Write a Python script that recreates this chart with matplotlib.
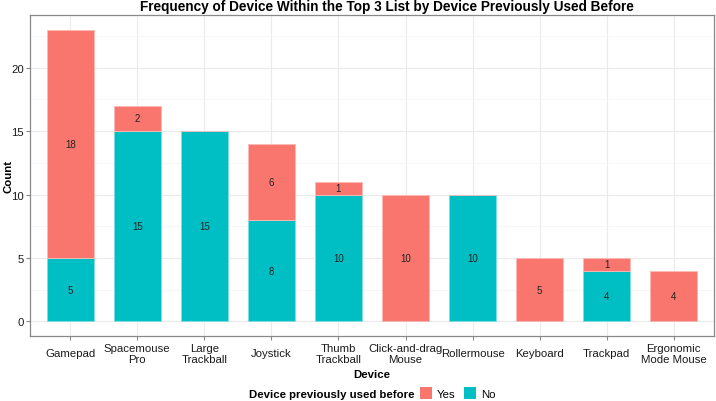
import matplotlib
matplotlib.use("Agg")
import matplotlib.pyplot as plt
import numpy as np
from matplotlib.patches import Rectangle

plt.rcParams["font.family"] = ["Liberation Sans", "DejaVu Sans"]

devices = ["Gamepad", "Spacemouse\nPro", "Large\nTrackball", "Joystick", "Thumb\nTrackball",
           "Click-and-drag\nMouse", "Rollermouse", "Keyboard", "Trackpad", "Ergonomic\nMode Mouse"]
no_counts = [5, 15, 15, 8, 10, 0, 10, 0, 4, 0]
yes_counts = [18, 2, 0, 6, 1, 10, 0, 5, 1, 4]
legend_labels = ["Yes", "No"]

YES_COLOR = "#F8766D"
NO_COLOR = "#00BFC4"
W, H = 716, 402
TICK_FS = 8.2
LAB_FS = 8.2

fig = plt.figure(figsize=(W / 100, H / 100), dpi=100)
ax = fig.add_axes([30 / W, 1 - 337 / H, 684 / W, 321 / H])

x = np.arange(len(devices))
no = np.array(no_counts)
yes = np.array(yes_counts)

ax.bar(x, no, width=0.7, color=NO_COLOR, edgecolor="#7fdfe2", linewidth=0.6, zorder=3)
ax.bar(x, yes, width=0.7, bottom=no, color=YES_COLOR, edgecolor="#fbbab6", linewidth=0.6, zorder=3)

for xi, n, y in zip(x, no, yes):
    if n > 0:
        ax.text(xi, n / 2, str(n), ha="center", va="center", fontsize=7, color="#222222", zorder=4)
    if y > 0:
        ax.text(xi, n + y / 2, str(y), ha="center", va="center", fontsize=7, color="#222222", zorder=4)

ax.set_xlim(-0.6, len(devices) - 0.4)
ymax = max(no + yes)
ax.set_ylim(-0.05 * ymax, ymax * 1.05)
ax.set_yticks([0, 5, 10, 15, 20])
ax.set_yticks([2.5, 7.5, 12.5, 17.5, 22.5], minor=True)
ax.set_xticks(x)
ax.set_xticklabels(devices, fontsize=TICK_FS, color="#1a1a1a", linespacing=1.05, va="center")
ax.tick_params(axis="y", labelsize=TICK_FS, labelcolor="#1a1a1a", color="#888888", length=3, pad=1.5)
ax.tick_params(axis="x", color="#888888", length=3, pad=9.5)
ax.tick_params(axis="y", which="minor", length=0)

ax.grid(True, which="major", color="#EBEBEB", linewidth=0.8, zorder=0)
ax.grid(True, which="minor", axis="y", color="#F3F3F3", linewidth=0.5, zorder=0)
for s in ax.spines.values():
    s.set_color("#888888")
    s.set_linewidth(0.9)

fig.text(372 / W, 1 - 375 / H, "Device", ha="center", va="center", fontsize=LAB_FS, fontweight="bold")
fig.text(8 / W, 1 - 176 / H, "Count", ha="center", va="center", rotation=90, fontsize=LAB_FS, fontweight="bold")
fig.text(387 / W, 1 - 7 / H, "Frequency of Device Within the Top 3 List by Device Previously Used Before",
         ha="center", va="center", fontsize=9.8, fontweight="bold")

# legend along the bottom
ly = 1 - 395 / H
fig.text(249 / W, ly, "Device previously used before", ha="left", va="center", fontsize=LAB_FS, fontweight="bold")
for lab, col, px in zip(legend_labels, [YES_COLOR, NO_COLOR], [420, 464]):
    fig.patches.append(Rectangle((px / W, 1 - 400 / H), 12 / W, 12 / H, transform=fig.transFigure,
                                 facecolor=col, edgecolor="none"))
    fig.text((px + 17) / W, ly, lab, ha="left", va="center", fontsize=TICK_FS)

fig.savefig("out.png", dpi=100, facecolor="white")
